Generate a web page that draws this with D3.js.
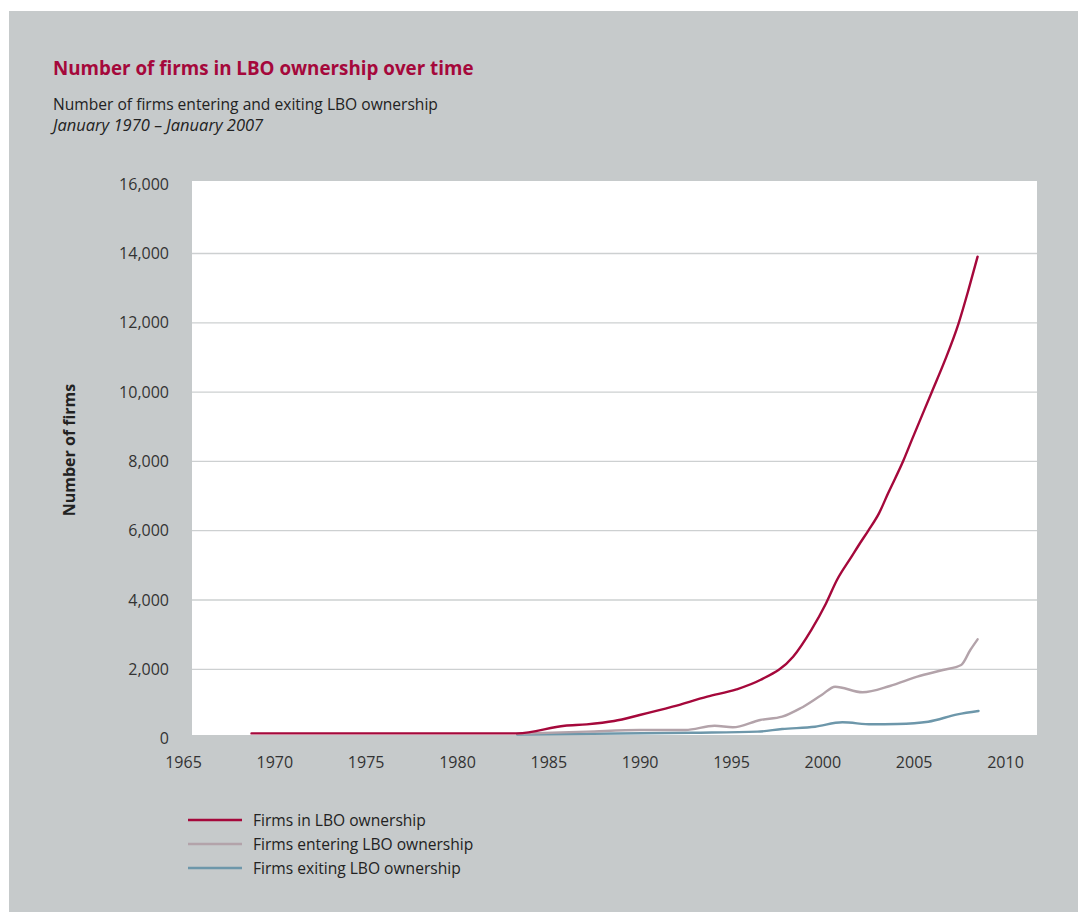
<!DOCTYPE html>
<html><head><meta charset="utf-8">
<script src="https://cdn.jsdelivr.net/npm/d3@7"></script>
<style>
html,body{margin:0;padding:0;background:#fff;}
svg{display:block;font-family:"Open Sans","Noto Sans",sans-serif;}
</style></head>
<body>
<svg id="chart" width="1078" height="915"></svg>
<script>
const title = "Number of firms in LBO ownership over time";
const subtitle1 = "Number of firms entering and exiting LBO ownership";
const subtitle2 = "January 1970 \u2013 January 2007";
const yAxisTitle = "Number of firms";
const seriesNames = ["Firms in LBO ownership","Firms entering LBO ownership","Firms exiting LBO ownership"];
const seriesColors = ["#a5083b","#b3a3aa","#6d97aa"];
const xTicks = [1965,1970,1975,1980,1985,1990,1995,2000,2005,2010];
const yTicks = [0,2000,4000,6000,8000,10000,12000,14000,16000];

const firmsInYears  = [1968.75,1975,1983.3,1985.9,1987.1,1988.6,1990.0,1991.8,1993.7,1995.3,1996.6,1998.4,1999.4,2000.2,2000.8,2001.6,2002.0,2002.5,2003.1,2003.6,2004.45,2004.9,2006.0,2006.7,2007.46,2008.0,2008.5];
const firmsInValues = [150,150,150,372,412,508,680,921,1210,1420,1690,2364,3140,3900,4577,5250,5587,5990,6500,7080,8040,8620,10012,10900,11985,12950,13910];

const enteringYears  = [1983.3,1987.1,1990.0,1992.5,1994.1,1995.1,1996.6,1997.8,1998.8,1999.96,2000.7,2002.2,2003.7,2005.2,2006.6,2007.6,2008.1,2008.5];
const enteringValues = [140,200,250,250,372,326,537,632,874,1258,1498,1336,1518,1787,1980,2124,2557,2865];

const exitingYears  = [1983.3,1992.9,1996.45,1997.8,1999.6,2001.1,2002.7,2004.1,2005.8,2007.4,2008.55];
const exitingValues = [120,170,200,277,343,470,412,421,488,700,797];

const series = [
  {name: seriesNames[0], color: seriesColors[0], data: firmsInYears.map((y,i)=>({x:y,v:firmsInValues[i]}))},
  {name: seriesNames[1], color: seriesColors[1], data: enteringYears.map((y,i)=>({x:y,v:enteringValues[i]}))},
  {name: seriesNames[2], color: seriesColors[2], data: exitingYears.map((y,i)=>({x:y,v:exitingValues[i]}))}
];

const svg = d3.select("#chart");
svg.append("rect").attr("x",9).attr("y",11).attr("width",1069).attr("height",901).attr("fill","#c6cacb");

const x = d3.scaleLinear().domain([1965,2010]).range([183,1005]);
const y = d3.scaleLinear().domain([0,16000]).range([738.6,184.2]);

svg.append("rect").attr("x",192).attr("y",181).attr("width",845).attr("height",554).attr("fill","#fff");

svg.append("g").selectAll("line").data(yTicks.filter(t=>t>0 && t<16000)).join("line")
  .attr("x1",192).attr("x2",1037).attr("y1",d=>y(d)).attr("y2",d=>y(d))
  .attr("stroke","#cdd0d1").attr("stroke-width",1.3);

const yAxis = d3.axisLeft(y).tickValues(yTicks).tickFormat(d3.format(",")).tickSize(0).tickPadding(0);
const gy = svg.append("g").attr("transform","translate(169,0)").call(yAxis);
gy.select(".domain").remove();
gy.selectAll("text").attr("font-size",16).attr("fill","#333").attr("font-family","'Open Sans','Noto Sans',sans-serif");

const xAxis = d3.axisBottom(x).tickValues(xTicks).tickFormat(d3.format("d")).tickSize(0).tickPadding(0);
const gx = svg.append("g").attr("transform","translate(0,757)").call(xAxis);
gx.select(".domain").remove();
gx.selectAll("text").attr("font-size",16).attr("fill","#333").attr("font-family","'Open Sans','Noto Sans',sans-serif");

const line = d3.line().x(d=>x(d.x)).y(d=>y(d.v)).curve(d3.curveMonotoneX);
[series[2],series[1],series[0]].forEach(s=>{
  svg.append("path").datum(s.data).attr("d",line).attr("fill","none")
    .attr("stroke",s.color).attr("stroke-width",2.4).attr("stroke-linejoin","round").attr("stroke-linecap","round");
});

svg.append("text").attr("x",53).attr("y",75).text(title)
  .attr("font-size",18.8).attr("font-weight","bold").attr("fill","#a5083b");
svg.append("text").attr("x",53).attr("y",110).text(subtitle1)
  .attr("font-size",15.6).attr("fill","#222");
svg.append("text").attr("x",53).attr("y",131).text(subtitle2)
  .attr("font-size",16.5).attr("font-style","italic").attr("fill","#222");

svg.append("text").attr("transform","translate(75,450) rotate(-90)").attr("text-anchor","middle")
  .text(yAxisTitle).attr("font-size",16).attr("font-weight","bold").attr("fill","#222");

const lg = svg.append("g");
series.forEach((s,i)=>{
  const yy = 820 + i*24;
  lg.append("line").attr("x1",188).attr("x2",242).attr("y1",yy).attr("y2",yy)
    .attr("stroke",s.color).attr("stroke-width",2.6);
  lg.append("text").attr("x",253).attr("y",yy+5.5).text(s.name)
    .attr("font-size",15.6).attr("fill","#222");
});
</script>
</body></html>
